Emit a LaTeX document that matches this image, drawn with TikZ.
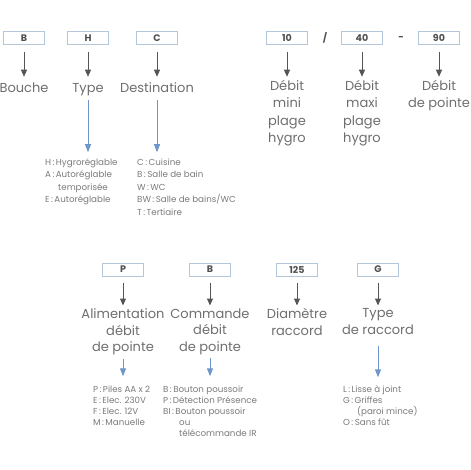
\documentclass[tikz,border=0pt]{standalone}
\usepackage{fontspec}
\setmainfont{Poppins}
\usetikzlibrary{arrows.meta}

\definecolor{boxline}{HTML}{B4C6DA}
\definecolor{codetext}{HTML}{505050}
\definecolor{darkarrow}{HTML}{555555}
\definecolor{labeltext}{HTML}{6E6E6E}
\definecolor{bluearrow}{HTML}{6E96CB}
\definecolor{listtext}{HTML}{7A7A7A}

\begin{document}
\begin{tikzpicture}[x=1pt, y=-1pt,
  code/.style={draw=boxline, line width=0.8pt, minimum width=41pt, minimum height=13pt,
    inner sep=0pt, text=codetext, font=\bfseries\fontsize{9.5}{9.5}\selectfont},
  sep/.style={inner sep=0pt, text=codetext, font=\bfseries\fontsize{9.5}{9.5}\selectfont},
  lbl/.style={anchor=north, inner sep=0pt, align=center, text=labeltext,
    font=\fontsize{13}{17.5}\selectfont, execute at begin node=\strut},
  lblb/.style={lbl, font=\fontsize{13}{16.5}\selectfont},
  tlist/.style={anchor=north west, inner sep=0pt, align=left, text=listtext,
    font=\fontsize{8.7}{12.5}\selectfont, execute at begin node=\strut},
  blist/.style={tlist, font=\fontsize{8.7}{11}\selectfont},
  darr/.style={-{Triangle[width=6pt,length=7pt]}, line width=1pt, darkarrow,
    shorten <=7pt, shorten >=3pt},
  barr/.style={-{Triangle[width=6pt,length=8pt]}, line width=1pt, bluearrow,
    shorten <=2pt, shorten >=6pt}]

  \useasboundingbox (0,0) rectangle (470,470);

  % Top row: code boxes
  \node[code] (cB) at (24,38) {B};
  \node[code] (cH) at (88,38) {H};
  \node[code] (cC) at (157,38) {C};
  \node[code] (cMin) at (287,38) {10};
  \node[sep] (sA) at (325,38) {/};
  \node[code] (cMax) at (362,38) {40};
  \node[sep] (sB) at (401,38) {-};
  \node[code] (cPte) at (439,38) {90};

  % Top row: labels
  \node[lbl] (lB) at (24,79.75) {Bouche};
  \node[lbl] (lH) at (88,79.75) {Type};
  \node[lbl] (lC) at (157,79.75) {Destination};
  \node[lbl] (lMin) at (287,79.75) {Débit\\mini\\plage\\hygro};
  \node[lbl] (lMax) at (362,79.75) {Débit\\maxi\\plage\\hygro};
  \node[lbl] (lPte) at (439,79.75) {Débit\\de pointe};

  \foreach \c/\l in {cB/lB, cH/lH, cC/lC, cMin/lMin, cMax/lMax, cPte/lPte}
    \draw[darr] (\c) -- (\l);

  % Top row: lists
  \node[tlist] (hList) at (45,158.25)
    {H\,:\,Hygroréglable\\A\,:\,Autoréglable\\\hspace*{13pt}temporisée\\E\,:\,Autoréglable};
  \node[tlist] (dList) at (137,158.25)
    {C\,:\,Cuisine\\B\,:\,Salle de bain\\W\,:\,WC\\BW\,:\,Salle de bains/WC\\T\,:\,Tertiaire};

  \draw[barr] (lH) -- (lH |- hList.north);
  \draw[barr] (lC) -- (lC |- dList.north);

  % Bottom row: code boxes
  \node[code] (cP) at (123,269.5) {P};
  \node[code] (cCmd) at (210,269.5) {B};
  \node[code] (cDia) at (297,269.5) {125};
  \node[code] (cG) at (378,269.5) {G};

  % Bottom row: labels
  \node[lblb] (lP) at (123,308.5) {Alimentation\\débit\\de pointe};
  \node[lblb] (lCmd) at (210,308.5) {Commande\\débit\\de pointe};
  \node[lblb] (lDia) at (297,308.5) {Diamètre\\raccord};
  \node[lblb] (lG) at (378,308.5) {Type\\de raccord};

  \foreach \c/\l in {cP/lP, cCmd/lCmd, cDia/lDia, cG/lG}
    \draw[darr] (\c) -- (\l);

  % Bottom row: lists
  \node[blist] (pList) at (93,385.3)
    {P\,:\,Piles AA x 2\\E\,:\,Elec. 230V\\F\,:\,Elec. 12V\\M\,:\,Manuelle};
  \node[blist] (bList) at (163,385.3)
    {B\,:\,Bouton poussoir\\P\,:\,Détection Présence\\BI\,:\,Bouton poussoir\\\hspace*{16pt}ou\\\hspace*{16pt}télécommande IR};
  \node[blist] (gList) at (343,385.3)
    {L\,:\,Lisse à joint\\G\,:\,Griffes\\\hspace*{14pt}(paroi mince)\\O\,:\,Sans fût};

  \draw[barr, shorten >=9pt] (lP) -- (lP |- pList.north);
  \draw[barr, shorten >=9pt] (lCmd) -- (lCmd |- bList.north);
  \draw[barr, shorten <=7pt, shorten >=8pt] (lG) -- (lG |- gList.north);

\end{tikzpicture}
\end{document}
